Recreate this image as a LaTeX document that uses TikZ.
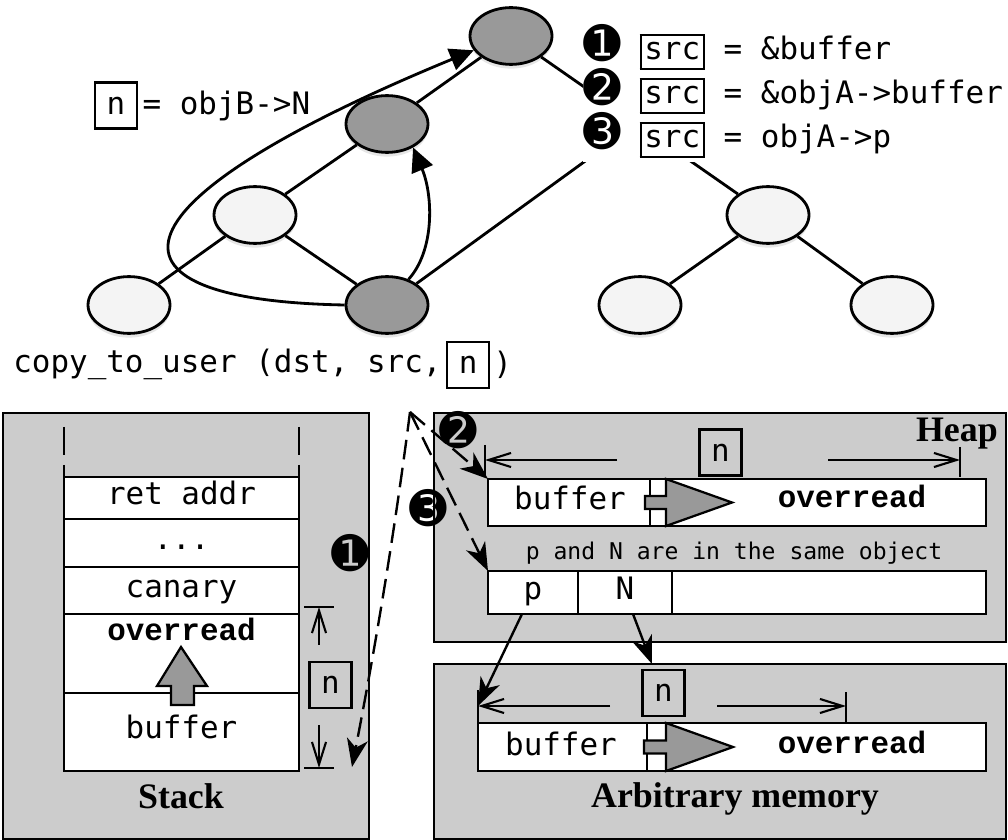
\documentclass[tikz,border=0pt]{standalone}
\usepackage{fontspec}
\setmainfont{Liberation Serif}
\setmonofont{DejaVu Sans Mono}
\newfontfamily\boldmono{Liberation Mono}
\newfontfamily\dingfont{DejaVu Sans}
\usetikzlibrary{shapes.geometric, arrows.meta, positioning, calc, shadows}
\usepackage{xcolor}
\definecolor{hotgray}{HTML}{999999}
\definecolor{coldgray}{HTML}{F4F4F4}
\definecolor{memgray}{HTML}{CCCCCC}
\newcommand{\codesize}{\fontsize{22}{26}\selectfont}
\newcommand{\notesize}{\fontsize{16.4}{20}\selectfont}
\newcommand{\titlesize}{\fontsize{25.5}{30}\selectfont}
\newcommand{\stepnum}[1]{{\dingfont\fontsize{32}{34}\selectfont #1}}
\newcommand{\framedvar}[1]{\fbox{\rule[-0.17em]{0pt}{0.85em}#1}}
\setlength{\fboxsep}{2pt}
\setlength{\fboxrule}{1.4pt}

\begin{document}
\begin{tikzpicture}[
    x=0.25mm, y=-0.25mm,
    obj/.style={draw, ellipse, line width=2pt, minimum width=2.05cm, minimum height=1.42cm, inner sep=0pt,
        drop shadow={opacity=0.2, shadow xshift=0pt, shadow yshift=-3pt}},
    hot/.style={obj, fill=hotgray},
    cold/.style={obj, fill=coldgray},
    link/.style={line width=2pt},
    ptr/.style={line width=2pt, -{Triangle[length=17pt, width=16pt]}},
    leak/.style={line width=1.7pt, dash pattern=on 14pt off 6pt, -{Stealth[length=20pt, width=15pt, inset=6pt]}},
    deref/.style={line width=1.7pt, -{Stealth[length=20pt, width=15pt, inset=6pt]}},
    dimline/.style={line width=1.5pt, -{Straight Barb[length=16pt, width=10pt]}},
    dimtick/.style={line width=1.5pt},
    memregion/.style={draw, line width=1.7pt, fill=memgray},
    slot/.style={draw, fill=white, line width=1.6pt, inner sep=0pt, outer sep=0pt, font=\codesize\ttfamily,
        text height=15pt, text depth=5.5pt},
    nbox/.style={draw, line width=1.5pt, minimum width=1.05cm, minimum height=1.15cm, inner sep=0pt, font=\codesize\ttfamily},
    codetxt/.style={font=\codesize\ttfamily, inner sep=0pt},
    srcline/.style={codetxt, fill=white, minimum height=1.1cm, anchor=west},
    boldcode/.style={font=\codesize\boldmono\bfseries, inner sep=0pt},
    regiontitle/.style={font=\titlesize\bfseries, inner sep=0pt},
    growarrow/.style={draw, line width=1.6pt, fill=hotgray},
    gapbox/.style={draw, line width=1.6pt, fill=white},
]
\useasboundingbox (0,0) rectangle (1008,840);

% object graph
\node[hot]  (root) at (511,36) {};
\node[hot]  (mid)  at (387,124) {};
\node[cold] (left) at (255,215) {};
\node[cold] (leaf) at (129,305) {};
\node[hot]  (sink) at (387,305) {};
\node[cold] (rtop) at (768,215) {};
\node[cold] (rl)   at (640,305) {};
\node[cold] (rr)   at (892,305) {};
\coordinate (hidden) at (690,85);

\draw[link] (root) -- (mid) (mid) -- (left) (left) -- (leaf) (left) -- (sink)
    (root) -- (rtop) (sink) -- (hidden) (rtop) -- (rl) (rtop) -- (rr);
\draw[ptr] (sink.west) .. controls (80,300) and (110,200) .. (root.201);
\draw[ptr] (sink.50) .. controls (435,250) and (433,195) .. (mid.318);

% labels of the graph
\node[nbox] (nvar) at (116,105.5) {n};
\node[codetxt, right=3pt of nvar] (nval) {= objB->N};
\node[srcline] (srcone) at (583,52) {\smash{\stepnum{➊}} \framedvar{src} = \&buffer};
\node[srcline] (srctwo) at (583,96) {\smash{\stepnum{➋}} \framedvar{src} = \&objA->buffer};
\node[srcline] (srcthree) at (583,140) {\smash{\stepnum{➌}} \framedvar{src} = objA->p};
\node[codetxt, anchor=base west] (call) at (13,373) {copy\_to\_user (dst, src,};
\node[nbox, right=3pt of call] (calln) {n};
\node[codetxt, right=2pt of calln] (callend) {)};

% stack
\draw[memregion] (3,413) rectangle (369,839);
\draw[dimtick, dash pattern=on 20pt off 7pt] (64,427) -- (64,477) (299,427) -- (299,477);
\node[slot, minimum width=5.875cm, minimum height=1.05cm, anchor=north west] (ret) at (64,477) {ret addr};
\node[slot, minimum width=5.875cm, minimum height=1.2cm, below=0pt of ret] (dots) {...};
\node[slot, minimum width=5.875cm, minimum height=1.175cm, below=0pt of dots] (canary) {canary};
\node[slot, minimum width=5.875cm, minimum height=1.975cm, below=0pt of canary,
    label={[name=overtxt, boldcode, anchor=north, yshift=-3pt]north:overread}] (over) {};
\node[slot, minimum width=5.875cm, minimum height=1.95cm, below=0pt of over] (buf) {buffer};
\draw[growarrow] (171,705) -- (171,686) -- (157,686) -- (181,647) -- (207,686) -- (194,686) -- (194,705) -- cycle;
\draw[dimtick] (304,607) -- (334,607) (304,768) -- (334,768);
\draw[dimline] (319,645) -- (319,607);
\node[nbox] (sn) at (330.5,685) {n};
\draw[dimline] (319,725) -- (319,768);
\node[regiontitle, anchor=base] (stacktitle) at (181,808) {Stack};

% heap
\draw[memregion] (434,413) rectangle (1006,642);
\node[regiontitle, anchor=base east] (heaptitle) at (998,442) {Heap};
\draw[dimtick] (485,445) -- (485,477);
\draw[dimline] (617,460) -- (485,460);
\node[nbox] (hn) at (720.5,452.5) {n};
\draw[dimline] (828,460) -- (960,460);
\draw[dimtick] (960,447) -- (960,477);
\node[slot, minimum width=12.45cm, minimum height=1.175cm, anchor=north west] (hbuf) at (488,479) {};
\draw[gapbox] (650,479) rectangle (666,526);
\draw[growarrow] (645,496) -- (666,496) -- (666,479) -- (732,502.5) -- (666,526) -- (666,509) -- (645,509) -- cycle;
\node[codetxt, anchor=base] (hbuftxt) at (570,510) {buffer};
\node[boldcode, anchor=base] (hovr) at (852,508) {overread};
\node[font=\notesize\ttfamily, inner sep=0pt, anchor=base] (note) at (734,560) {p and N are in the same object};
\node[slot, minimum width=2.25cm, minimum height=1.075cm, anchor=north west] (pcell) at (488,571) {p};
\node[slot, minimum width=2.35cm, minimum height=1.075cm, right=0pt of pcell] (ncell) {N};
\node[slot, minimum width=7.85cm, minimum height=1.075cm, right=0pt of ncell] (rest) {};

% arbitrary memory
\draw[memregion] (434,664) rectangle (1006,839);
\draw[dimtick] (478,690) -- (478,723);
\coordinate (al) at (478,706);
\draw[dimline] (610,706) -- (al);
\node[nbox] (an) at (663.5,693) {n};
\draw[dimline] (717,706) -- (846,706);
\draw[dimtick] (846,692) -- (846,723);
\node[slot, minimum width=12.7cm, minimum height=1.2cm, anchor=north west] (abuf) at (478,723) {};
\draw[gapbox] (647,723) rectangle (666,771);
\draw[growarrow] (644,740.5) -- (666,740.5) -- (666,723) -- (733,747) -- (666,771) -- (666,753.5) -- (644,753.5) -- cycle;
\node[codetxt, anchor=base] (abuftxt) at (561,755) {buffer};
\node[boldcode, anchor=base] (aovr) at (852,753) {overread};
\node[regiontitle, anchor=base] (arbtitle) at (735,807) {Arbitrary memory};

% pointers out of the object
\coordinate (nhit) at (652,664);
\draw[deref] ($(pcell.south)+(-11,0)$) -- (al);
\draw[deref] ($(ncell.south)+(8,0)$) -- (nhit);

% where src points
\coordinate (src) at (410,412);
\coordinate (stackend) at (352,767);
\draw[leak] (src) .. controls (395,530) and (375,649) .. (stackend);
\draw[leak] (src) -- (hbuf.north west);
\draw[leak] (src) -- (pcell.north west);
\node[inner sep=0pt] (one) at (350,553) {\stepnum{➊}};
\node[inner sep=0pt] (two) at (458,430) {\stepnum{➋}};
\node[inner sep=0pt] (three) at (428,508) {\stepnum{➌}};

\end{tikzpicture}
\end{document}
